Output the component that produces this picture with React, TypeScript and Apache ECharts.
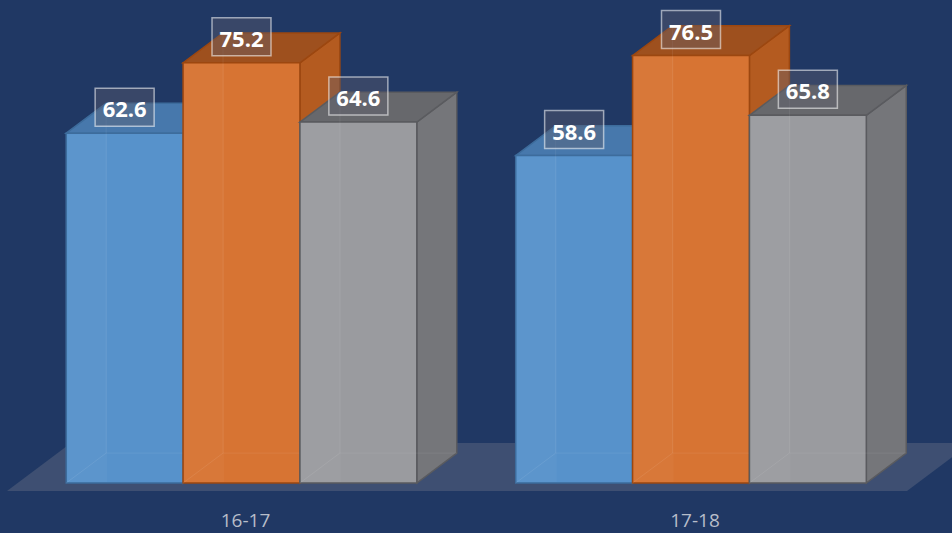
import React, { useEffect, useRef } from "react";
import * as echarts from "echarts";

const categories = ["16-17", "17-18"];
const seriesNames = ["Series 1", "Series 2", "Series 3"];
const blueValues = [62.6, 58.6];
const orangeValues = [75.2, 76.5];
const grayValues = [64.6, 65.8];

const palettes = [
  { front: "#5792CB", side: "#4A7EB4", top: "#4778AC", edge: "#3D6C9C" },
  { front: "#D77433", side: "#B45B20", top: "#9E501E", edge: "#9C4710" },
  { front: "#9A9B9F", side: "#75767A", top: "#67686C", edge: "#5A5B5F" },
];

function makeRender(sIdx: number) {
  const pal = palettes[sIdx];
  return (params: any, api: any) => {
    const cat = api.value(0);
    const v = api.value(1);
    const top = api.coord([cat, v]);
    const base = api.coord([cat, 0]);
    const band = api.size([1, 0])[0];
    const w = band * 0.26;
    const x0 = top[0] - 1.5 * w + sIdx * w;
    const x1 = x0 + w;
    const yT = top[1];
    const yB = base[1];
    const dx = w * 0.342;
    const dy = -w * 0.256;
    const edgeStyle = { stroke: pal.edge, lineWidth: 1.5 };
    const cx = (x0 + x1) / 2;
    const labelCy = yT - 26;
    return {
      type: "group",
      children: [
        {
          type: "polygon",
          shape: { points: [[x1, yT], [x1 + dx, yT + dy], [x1 + dx, yB + dy], [x1, yB]] },
          style: { fill: pal.side, ...edgeStyle },
        },
        {
          type: "polygon",
          shape: { points: [[x0, yT], [x0 + dx, yT + dy], [x1 + dx, yT + dy], [x1, yT]] },
          style: { fill: pal.top, ...edgeStyle },
        },
        {
          type: "rect",
          shape: { x: x0, y: yT, width: w, height: yB - yT },
          style: { fill: pal.front, ...edgeStyle },
        },
        {
          type: "rect",
          shape: { x: x0 + 1, y: yT + 1, width: dx, height: yB - yT - 2 },
          style: { fill: "rgba(255,255,255,0.03)" },
        },
        {
          type: "polyline",
          shape: { points: [[x0 + dx, yT + dy], [x0 + dx, yB + dy], [x1 + dx, yB + dy]] },
          style: { stroke: "rgba(255,255,255,0.07)", lineWidth: 1, fill: null },
        },
        {
          type: "line",
          shape: { x1: x0, y1: yB, x2: x0 + dx, y2: yB + dy },
          style: { stroke: "rgba(255,255,255,0.08)", lineWidth: 1 },
        },
        {
          type: "rect",
          shape: { x: cx - 29.5, y: labelCy - 19, width: 59, height: 38 },
          style: {
            fill: "rgba(95,95,110,0.40)",
            stroke: "rgba(255,255,255,0.55)",
            lineWidth: 1.5,
          },
        },
        {
          type: "text",
          x: cx,
          y: labelCy + 1,
          style: {
            text: String(v),
            fill: "#FFFFFF",
            font: "bold 22px 'Open Sans', sans-serif",
            align: "center",
            verticalAlign: "middle",
          },
        },
      ],
    };
  };
}

export default function App() {
  const ref = useRef<HTMLDivElement>(null);
  useEffect(() => {
    if (!ref.current) return;
    const chart = echarts.init(ref.current, undefined, { renderer: "svg" });
    const all = [blueValues, orangeValues, grayValues];
    chart.setOption({
      animation: false,
      backgroundColor: "#203864",
      grid: { left: 16.75, right: 36.25, top: 36, bottom: 50 },
      xAxis: {
        type: "category",
        data: categories,
        axisLine: { show: false },
        axisTick: { show: false },
        axisLabel: {
          color: "#B7BDC9",
          fontFamily: "'Open Sans', sans-serif",
          fontSize: 19,
          margin: 27,
          padding: [0, 0, 0, 8],
        },
        splitLine: { show: false },
      },
      yAxis: { type: "value", min: 0, max: 80, show: false, splitLine: { show: false } },
      graphic: [
        {
          type: "polygon",
          z: -10,
          shape: { points: [[7, 491], [907, 491], [971, 443], [71, 443]] },
          style: { fill: "rgba(140,140,152,0.28)" },
        },
      ],
      series: all.map((vals, i) => ({
        type: "custom",
        name: seriesNames[i],
        renderItem: makeRender(i),
        encode: { x: 0, y: 1 },
        data: vals.map((v, j) => [j, v]),
        z: 2 + i,
      })),
    });
    return () => chart.dispose();
  }, []);
  return (
    <div
      ref={ref}
      style={{ position: "fixed", left: 0, top: 0, width: 952, height: 533, background: "#203864" }}
    />
  );
}
